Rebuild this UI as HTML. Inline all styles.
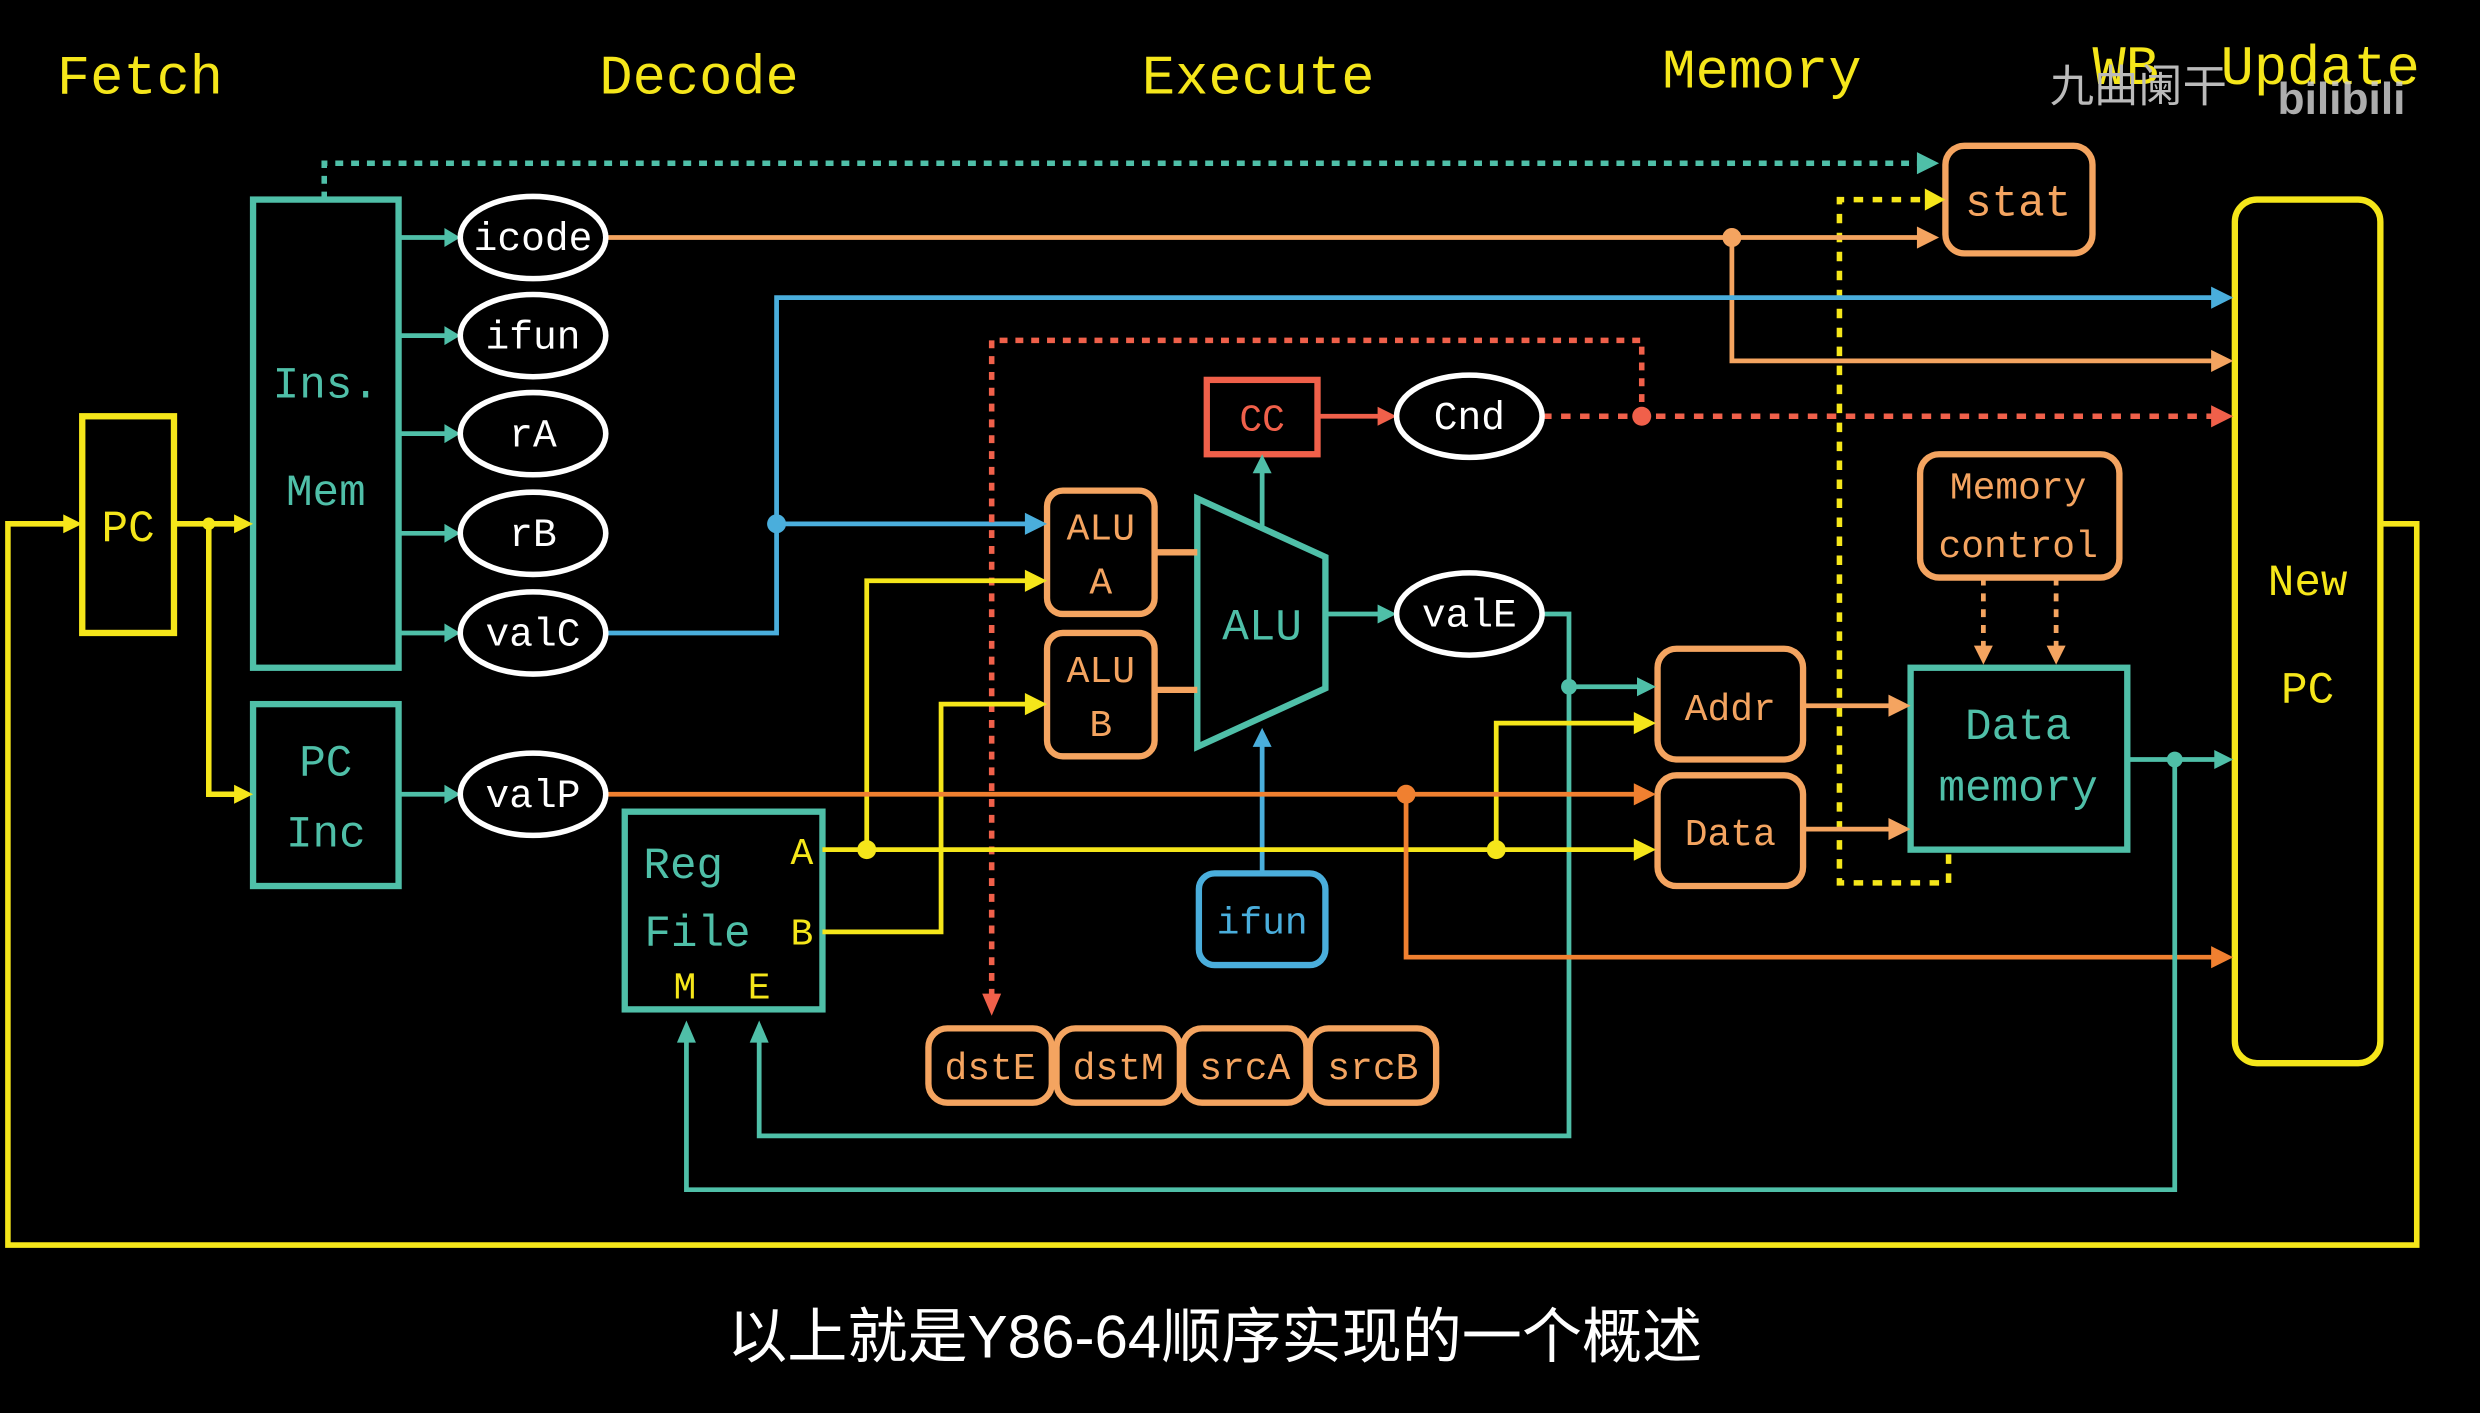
<!DOCTYPE html>
<html><head><meta charset="utf-8"><style>
html,body{margin:0;padding:0;background:#000;}
svg{display:block;}
text{font-family:"Liberation Mono",monospace;}
</style></head><body>
<svg width="2480" height="1413" viewBox="0 0 1568 893" xmlns="http://www.w3.org/2000/svg">
<rect width="1568" height="893" fill="#000"/>
<g font-size="35" fill="#f5e61a" text-anchor="start">
<text x="36" y="59">Fetch</text>
<text x="379" y="59">Decode</text>
<text x="722" y="59">Execute</text>
<text x="1051" y="55">Memory</text>
<text x="1323" y="53">WB</text>
<text x="1404" y="53">Update</text>
</g>
<text x="1296" y="64" font-size="28" fill="#bbb" style="font-family:'Noto Sans CJK SC',sans-serif">九曲阑干</text>
<text x="1440" y="72" font-size="28" fill="#ccc" font-weight="bold" style="font-family:'Liberation Sans',sans-serif" opacity="0.85">bilibili</text>

<g fill="none" stroke-width="3.5" stroke-linejoin="miter">
<polyline points="1505,331 1528,331 1528,787 5,787 5,331 44,331" stroke="#f5e61a"/>
<polyline points="110,331 152,331" stroke="#f5e61a"/>
<polyline points="132,331 132,502 152,502" stroke="#f5e61a"/>
<rect x="52" y="263" width="58" height="137" stroke="#f5e61a" stroke-width="4"/>
<rect x="160" y="126" width="92" height="296" stroke="#4fbfa8" stroke-width="4"/>
<rect x="160" y="445" width="92" height="115" stroke="#4fbfa8" stroke-width="4"/>
<g stroke="#4fbfa8" stroke-width="3">
<line x1="252" y1="150" x2="284" y2="150"/><line x1="252" y1="212" x2="284" y2="212"/>
<line x1="252" y1="274" x2="284" y2="274"/><line x1="252" y1="337" x2="284" y2="337"/>
<line x1="252" y1="400" x2="284" y2="400"/><line x1="252" y1="502" x2="284" y2="502"/>
</g>
<polyline points="205,126 205,103 1215,103" stroke="#4fbfa8" stroke-dasharray="5,5"/>
<polyline points="1232,540 1232,558 1163,558 1163,126 1218,126" stroke="#f5e61a" stroke-dasharray="6,6"/>
<line x1="383" y1="150" x2="1218" y2="150" stroke="#f4a460" stroke-width="3"/>
<polyline points="1095,150 1095,228 1402,228" stroke="#f4a460" stroke-width="3"/>
<polyline points="383,400 491,400 491,188 1402,188" stroke="#4aaedc" stroke-width="3"/>
<line x1="491" y1="331" x2="652" y2="331" stroke="#4aaedc" stroke-width="3"/>
<polyline points="627,630 627,215 1038,215 1038,263" stroke="#f0604a" stroke-dasharray="5,5"/>
<line x1="975" y1="263" x2="1402" y2="263" stroke="#f0604a" stroke-dasharray="6,6"/>
<line x1="833" y1="263" x2="875" y2="263" stroke="#f0604a" stroke-width="3"/>
<rect x="763" y="240" width="70" height="47" stroke="#f0604a" stroke-width="4"/>
<polygon points="757,315 838,352 838,435 757,472" stroke="#4fbfa8" stroke-width="4"/>
<line x1="798" y1="333" x2="798" y2="296" stroke="#4fbfa8" stroke-width="3"/>
<line x1="838" y1="388" x2="875" y2="388" stroke="#4fbfa8" stroke-width="3"/>
<line x1="730" y1="349" x2="757" y2="349" stroke="#f4a460" stroke-width="4"/>
<line x1="730" y1="436" x2="757" y2="436" stroke="#f4a460" stroke-width="4"/>
<rect x="662" y="310" width="68" height="78" rx="10" stroke="#f4a460" stroke-width="4"/>
<rect x="662" y="400" width="68" height="78" rx="10" stroke="#f4a460" stroke-width="4"/>
<polyline points="975,388 992,388 992,718 480,718 480,653" stroke="#4fbfa8" stroke-width="3"/>
<line x1="992" y1="434" x2="1037" y2="434" stroke="#4fbfa8" stroke-width="3"/>
<line x1="798" y1="552" x2="798" y2="470" stroke="#4aaedc" stroke-width="3"/>
<rect x="758" y="552" width="80" height="58" rx="10" stroke="#4aaedc" stroke-width="4"/>
<rect x="395" y="513" width="125" height="125" stroke="#4fbfa8" stroke-width="4"/>
<line x1="520" y1="537" x2="1037" y2="537" stroke="#f5e61a" stroke-width="3"/>
<polyline points="548,537 548,367 652,367" stroke="#f5e61a" stroke-width="3"/>
<polyline points="946,537 946,457 1037,457" stroke="#f5e61a" stroke-width="3"/>
<polyline points="520,589 595,589 595,445 652,445" stroke="#f5e61a" stroke-width="3"/>
<line x1="383" y1="502" x2="1037" y2="502" stroke="#f08030" stroke-width="3"/>
<polyline points="889,502 889,605 1402,605" stroke="#f08030" stroke-width="3"/>
<rect x="1048" y="410" width="92" height="70" rx="12" stroke="#f4a460" stroke-width="4"/>
<rect x="1048" y="490" width="92" height="70" rx="12" stroke="#f4a460" stroke-width="4"/>
<line x1="1140" y1="446" x2="1198" y2="446" stroke="#f4a460" stroke-width="3"/>
<line x1="1140" y1="524" x2="1198" y2="524" stroke="#f4a460" stroke-width="3"/>
<rect x="1208" y="422" width="137" height="115" stroke="#4fbfa8" stroke-width="4"/>
<rect x="1214" y="287" width="126" height="78" rx="12" stroke="#f4a460" stroke-width="4"/>
<line x1="1254" y1="365" x2="1254" y2="412" stroke="#f4a460" stroke-width="3" stroke-dasharray="5,5"/>
<line x1="1300" y1="365" x2="1300" y2="412" stroke="#f4a460" stroke-width="3" stroke-dasharray="5,5"/>
<polyline points="1345,480 1402,480" stroke="#4fbfa8" stroke-width="3"/>
<polyline points="1375,480 1375,752 434,752 434,653" stroke="#4fbfa8" stroke-width="3"/>
<rect x="1230" y="92" width="93" height="68" rx="12" stroke="#f4a460" stroke-width="4"/>
<rect x="1413" y="126" width="92" height="546" rx="14" stroke="#f5e61a" stroke-width="4"/>
<g stroke="#f4a460" stroke-width="4">
<rect x="587" y="650" width="78" height="47" rx="12"/><rect x="668" y="650" width="78" height="47" rx="12"/>
<rect x="748" y="650" width="78" height="47" rx="12"/><rect x="828" y="650" width="80" height="47" rx="12"/>
</g>
</g>
<g>
<polygon points="52,331 40,325 40,337" fill="#f5e61a"/>
<polygon points="160,331 148,325 148,337" fill="#f5e61a"/>
<polygon points="160,502 148,496 148,508" fill="#f5e61a"/>
<g fill="#4fbfa8">
<polygon points="291,150 281,144 281,156"/><polygon points="291,212 281,206 281,218"/>
<polygon points="291,274 281,268 281,280"/><polygon points="291,337 281,331 281,343"/>
<polygon points="291,400 281,394 281,406"/><polygon points="291,502 281,496 281,508"/>
<polygon points="1226,103 1212,96 1212,110"/>
<polygon points="798,287 792,299 804,299"/><polygon points="883,388 871,382 871,394"/>
<polygon points="1047,434 1035,428 1035,440"/><polygon points="1412,480 1400,474 1400,486"/>
<polygon points="480,645 474,659 486,659"/><polygon points="434,645 428,659 440,659"/>
</g>
<polygon points="1230,126 1217,119 1217,133" fill="#f5e61a"/>
<g fill="#f4a460">
<polygon points="1226,150 1212,143 1212,157"/><polygon points="1412,228 1398,221 1398,235"/>
<polygon points="1208,446 1194,439 1194,453"/><polygon points="1208,524 1194,517 1194,531"/>
<polygon points="1254,420 1248,408 1260,408"/><polygon points="1300,420 1294,408 1306,408"/>
</g>
<polygon points="1412,188 1398,181 1398,195" fill="#4aaedc"/>
<polygon points="662,331 648,324 648,338" fill="#4aaedc"/>
<polygon points="798,460 792,472 804,472" fill="#4aaedc"/>
<g fill="#f0604a">
<polygon points="1412,263 1398,256 1398,270"/><polygon points="883,263 871,257 871,269"/>
<polygon points="627,642 621,628 633,628"/>
</g>
<g fill="#f5e61a">
<polygon points="662,367 648,360 648,374"/><polygon points="662,445 648,438 648,452"/>
<polygon points="1047,457 1033,450 1033,464"/><polygon points="1047,537 1033,530 1033,544"/>
</g>
<g fill="#f08030">
<polygon points="1047,502 1033,495 1033,509"/><polygon points="1412,605 1398,598 1398,612"/>
</g>
</g>
<circle cx="132" cy="331" r="4" fill="#f5e61a"/>
<circle cx="491" cy="331" r="6" fill="#4aaedc"/>
<circle cx="1095" cy="150" r="6" fill="#f4a460"/>
<circle cx="1038" cy="263" r="6" fill="#f0604a"/>
<circle cx="548" cy="537" r="6" fill="#f5e61a"/>
<circle cx="946" cy="537" r="6" fill="#f5e61a"/>
<circle cx="889" cy="502" r="6" fill="#f08030"/>
<circle cx="992" cy="434" r="5" fill="#4fbfa8"/>
<circle cx="1375" cy="480" r="5" fill="#4fbfa8"/>
<g fill="#000" stroke="#fff" stroke-width="3.5">
<ellipse cx="337" cy="150" rx="46" ry="26"/><ellipse cx="337" cy="212" rx="46" ry="26"/>
<ellipse cx="337" cy="274" rx="46" ry="26"/><ellipse cx="337" cy="337" rx="46" ry="26"/>
<ellipse cx="337" cy="400" rx="46" ry="26"/><ellipse cx="337" cy="502" rx="46" ry="26"/>
<ellipse cx="929" cy="263" rx="46" ry="26"/><ellipse cx="929" cy="388" rx="46" ry="26"/>
</g>
<g font-size="25" fill="#fff" text-anchor="middle">
<text x="337" y="158">icode</text><text x="337" y="220">ifun</text><text x="337" y="282">rA</text>
<text x="337" y="345">rB</text><text x="337" y="408">valC</text><text x="337" y="510">valP</text>
<text x="929" y="271">Cnd</text><text x="929" y="396">valE</text>
</g>
<g font-size="28" text-anchor="middle">
<text x="81" y="342" fill="#f5e61a">PC</text>
<text x="206" y="251" fill="#4fbfa8">Ins.</text>
<text x="206" y="319" fill="#4fbfa8">Mem</text>
<text x="206" y="490" fill="#4fbfa8">PC</text>
<text x="206" y="535" fill="#4fbfa8">Inc</text>
<text x="798" y="404" fill="#4fbfa8">ALU</text>
<text x="1459" y="376" fill="#f5e61a">New</text>
<text x="1459" y="444" fill="#f5e61a">PC</text>
<text x="1276" y="136" fill="#f4a460">stat</text>
<text x="1276" y="467" fill="#4fbfa8">Data</text>
<text x="1276" y="506" fill="#4fbfa8">memory</text>
<text x="432" y="555" fill="#4fbfa8">Reg</text>
<text x="441" y="598" fill="#4fbfa8">File</text>
</g>
<g font-size="24" text-anchor="middle">
<text x="798" y="272" fill="#f0604a">CC</text>
<text x="696" y="341" fill="#f4a460">ALU</text><text x="696" y="375" fill="#f4a460">A</text>
<text x="696" y="431" fill="#f4a460">ALU</text><text x="696" y="465" fill="#f4a460">B</text>
<text x="798" y="590" fill="#4aaedc">ifun</text>
<text x="1094" y="455" fill="#f4a460">Addr</text>
<text x="1094" y="534" fill="#f4a460">Data</text>
<text x="1276" y="315" fill="#f4a460">Memory</text>
<text x="1276" y="352" fill="#f4a460">control</text>
<text x="626" y="682" fill="#f4a460">dstE</text><text x="707" y="682" fill="#f4a460">dstM</text>
<text x="787" y="682" fill="#f4a460">srcA</text><text x="868" y="682" fill="#f4a460">srcB</text>
<text x="507" y="546" fill="#f5e61a">A</text><text x="507" y="597" fill="#f5e61a">B</text>
<text x="433" y="631" fill="#f5e61a">M</text><text x="480" y="631" fill="#f5e61a">E</text>
</g>
<text x="768" y="858" font-size="38" fill="#fff" text-anchor="middle" style="font-family:'Liberation Sans','Noto Sans CJK SC',sans-serif">以上就是Y86-64顺序实现的一个概述</text>
</svg>
</body></html>
